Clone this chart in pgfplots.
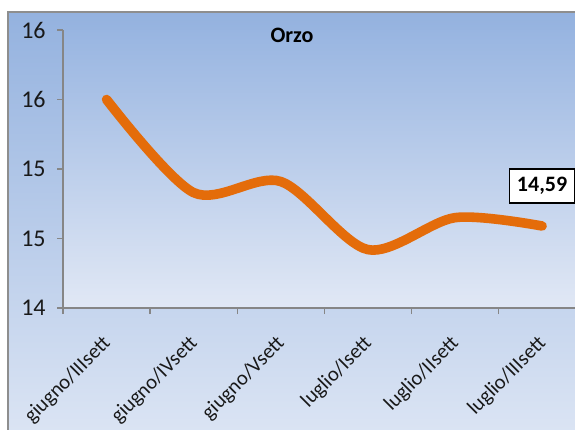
\documentclass[border=0pt]{standalone}
\usepackage{pgfplots}
\pgfplotsset{compat=1.18}
\usepackage{fontspec}
\setmainfont{Carlito}

\definecolor{chartTop}{HTML}{94B2DF}
\definecolor{chartBot}{HTML}{DCE5F4}
\definecolor{plotTop}{HTML}{98B5E1}
\definecolor{plotBot}{HTML}{E1E8F5}
\definecolor{axisgray}{HTML}{868686}
\definecolor{framegray}{HTML}{8E8E8E}
\definecolor{lineorange}{HTML}{E46C0A}

\newcommand{\lblfont}{\fontsize{16.5}{19}\selectfont}
\newcommand{\catfont}{\fontsize{15.5}{18}\selectfont}
\newcommand{\yfont}{\fontsize{18}{21}\selectfont}

\begin{document}
\begin{tikzpicture}[x=0.75pt,y=0.75pt]
  % picture is 575 x 429 px, 1 px = 0.75pt
  \useasboundingbox (0,0) rectangle (575,429);
  \shade[top color=chartTop, bottom color=chartBot] (8,-10) rectangle (600,417);
  \draw[framegray, line width=1.1pt] (8,-10) -- (8,417) -- (600,417);

  \begin{axis}[
    at={(47.25pt,90.75pt)}, anchor=south west,
    scale only axis, width=395.25pt, height=208.5pt,
    xmin=-0.5, xmax=5.55, ymin=14, ymax=16,
    axis x line=bottom, axis y line=left,
    axis line style={-, draw=axisgray, line width=1.1pt},
    axis background/.style={top color=plotTop, bottom color=plotBot},
    tick align=outside, major tick length=4.5pt,
    tick style={draw=axisgray, line width=1pt},
    ytick={14,14.5,15,15.5,16},
    yticklabels={14,15,15,16,16},
    yticklabel style={font=\yfont, text=black!90, xshift=-5pt},
    xtick={-0.5,0.5,...,5.5}, xticklabels={},
    extra x ticks={0,1,2,3,4,5},
    extra x tick labels={giugno/IIIsett,giugno/IVsett,giugno/Vsett,luglio/Isett,luglio/IIsett,luglio/IIIsett},
    extra x tick style={major tick length=0pt,
      xticklabel style={font=\catfont, text=black!90, xshift=3pt, yshift=-22pt, rotate=45, anchor=east}},
    /pgf/number format/assume math mode=true,
  ]
  \addplot[lineorange, line width=7.2pt, line cap=round, smooth, tension=0.5]
    coordinates {(0,15.50)(1,14.83)(2,14.91)(3,14.42)(4,14.65)(5,14.59)};
  \addplot[draw=none, mark=none,
    nodes near coords={\bfseries 14,59},
    every node near coord/.append style={font=\lblfont, text=black, draw=black,
      line width=1.1pt, fill=white, minimum width=48.75pt, minimum height=25.5pt,
      anchor=center, yshift=30pt}]
    coordinates {(5,14.59)};
  \end{axis}

  \node[font=\bfseries\lblfont] at (292,394) {Orzo};
\end{tikzpicture}
\end{document}
